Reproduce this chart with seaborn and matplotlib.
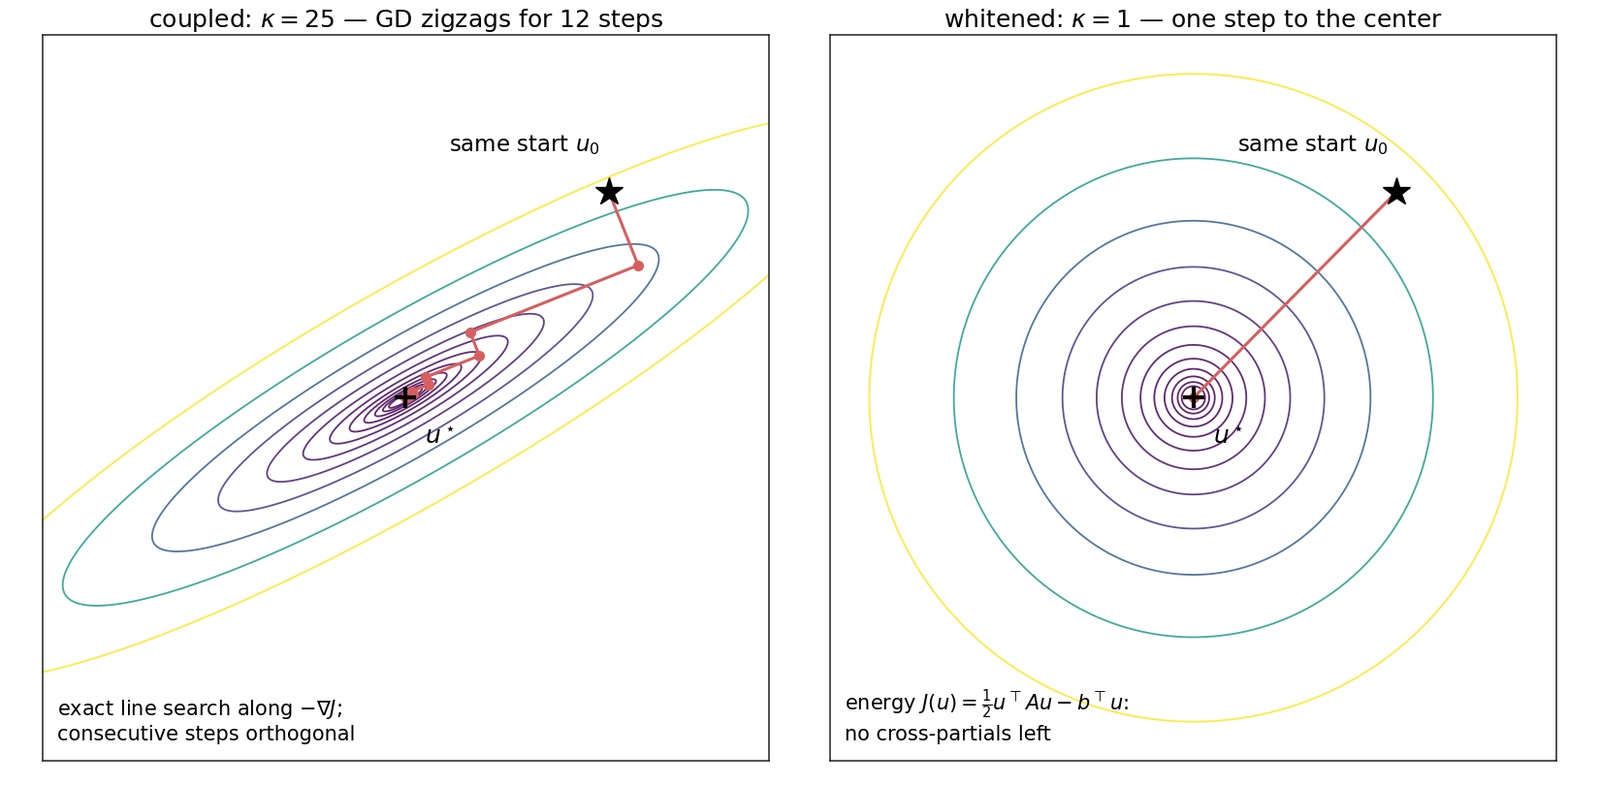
import numpy as np
import matplotlib
matplotlib.use("Agg")
import matplotlib.pyplot as plt
import seaborn as sns

# ---- data ----
titles = [r"coupled: $\kappa=25$ — GD zigzags for 12 steps",
          r"whitened: $\kappa=1$ — one step to the center"]
kappas = [25.0, 1.0]
angle_deg = 30.0                    # orientation of the coupled valley
u_star = [0.0, 0.0]                 # minimiser
u_start = [1.40, 1.42]              # same start u0 in both panels
n_steps = [12, 1]
level_factors = [0.001297, 0.002374, 0.004344, 0.007950, 0.01455, 0.02663,
                 0.04873, 0.08917, 0.1632, 0.2986, 0.5464, 1.0]   # times level_top*J(u0)
level_top = 1.252
bottom_notes = ["exact line search along $-\\nabla J$;\nconsecutive steps orthogonal",
                "energy $J(u)=\\frac{1}{2}u^\\top Au-b^\\top u$:\nno cross-partials left"]
half_range = 2.5

path_color = "#d65f5f"

sns.set_theme(style="white")
plt.rcParams['font.family'] = ['DejaVu Sans']
plt.rcParams['mathtext.fontset'] = 'dejavusans'
plt.rcParams['text.color'] = 'black'
plt.rcParams['axes.titlecolor'] = 'black'

fig, axes = plt.subplots(1, 2, figsize=(16.5, 8.1), dpi=100)
fig.subplots_adjust(left=0.026, right=0.9733, bottom=0.031, top=0.9556, wspace=0.0827)

th = np.deg2rad(angle_deg)
R = np.array([[np.cos(th), -np.sin(th)], [np.sin(th), np.cos(th)]])
us = np.array(u_star)
u0 = np.array(u_start)

g = np.linspace(-half_range, half_range, 700)
X, Y = np.meshgrid(g, g)

for ax, kappa, title, nst, note in zip(axes, kappas, titles, n_steps, bottom_notes):
    A = R @ np.diag([1.0, kappa]) @ R.T
    def J(u):
        d = u - us
        return 0.5 * d @ A @ d
    DX, DY = X - us[0], Y - us[1]
    Z = 0.5 * (A[0, 0] * DX**2 + 2 * A[0, 1] * DX * DY + A[1, 1] * DY**2)
    levels = level_top * J(u0) * np.array(level_factors)
    ax.contour(X, Y, Z, levels=levels, cmap="viridis", linewidths=1.3, alpha=0.85)

    # steepest descent with exact line search
    pts = [u0.copy()]
    u = u0.copy()
    for _ in range(nst):
        grad = A @ (u - us)
        if np.linalg.norm(grad) < 1e-12:
            break
        alpha = (grad @ grad) / (grad @ A @ grad)
        u = u - alpha * grad
        pts.append(u.copy())
    pts = np.array(pts)
    ax.plot(pts[:, 0], pts[:, 1], color=path_color, lw=2.2, zorder=3)
    ax.plot(pts[1:, 0], pts[1:, 1], "o", color=path_color, ms=7, zorder=3)

    ax.plot([u0[0]], [u0[1]], marker="*", color="black", ms=21, zorder=5, ls="none")
    ax.plot([us[0]], [us[1]], marker="+", color="black", ms=16, mew=3, zorder=5, ls="none")
    ax.text(u0[0] - 0.06, u0[1] + 0.32, r"same start $u_0$", fontsize=16.5,
            ha="right", va="center")
    ax.text(us[0] + 0.24, us[1] - 0.27, r"$u^\star$", fontsize=18,
            ha="center", va="center")
    ax.text(0.02, 0.022, note, transform=ax.transAxes, fontsize=15,
            ha="left", va="bottom", linespacing=1.25)

    ax.set_xlim(-half_range, half_range)
    ax.set_ylim(-half_range, half_range)
    ax.set_aspect("equal")
    ax.set_xticks([])
    ax.set_yticks([])
    ax.set_title(title, fontsize=18)
    for s in ax.spines.values():
        s.set_color("#222222")
        s.set_linewidth(1.1)

fig.savefig("out.png", dpi=100)
